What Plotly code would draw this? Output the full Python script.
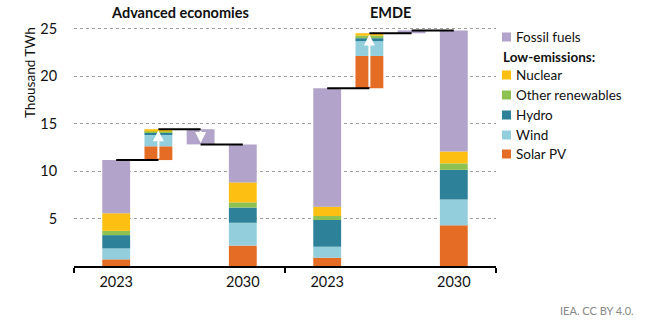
import plotly.graph_objects as go

# ---------------- data ----------------
series = ["Solar PV", "Wind", "Hydro", "Other renewables", "Nuclear", "Fossil fuels"]
colors = ["#E46C24", "#93CEDD", "#2D8299", "#8DC152", "#FDC012", "#B1A3C9"]
regions = ["Advanced economies", "EMDE"]
year_labels = ["2023", "2030"]

ae_2023 = [0.70, 1.15, 1.40, 0.45, 1.85, 5.60]
ae_2030 = [2.15, 2.40, 1.60, 0.55, 2.10, 4.00]
emde_2023 = [0.87, 1.16, 2.81, 0.42, 0.99, 12.45]
emde_2030 = [4.28, 2.72, 3.12, 0.68, 1.25, 12.75]

data = {"Advanced economies": (ae_2023, ae_2030), "EMDE": (emde_2023, emde_2030)}
group_start = {"Advanced economies": 0, "EMDE": 5}

BW = 0.66
fig = go.Figure()

xs = {s: [] for s in series}
bases = {s: [] for s in series}
heights = {s: [] for s in series}
line_x, line_y = [], []
arrows = []

for reg in regions:
    v23, v30 = data[reg]
    g = group_start[reg]
    p23, pinc, pfos, p30 = g + 1, g + 2, g + 3, g + 4
    cum23, cum30 = 0.0, 0.0
    tot23, tot30 = sum(v23), sum(v30)
    run = tot23
    for i, s in enumerate(series):
        xs[s] += [p23, p30]
        bases[s] += [cum23, cum30]
        heights[s] += [v23[i], v30[i]]
        cum23 += v23[i]
        cum30 += v30[i]
        d = v30[i] - v23[i]
        if i < 5:
            xs[s].append(pinc)
            bases[s].append(min(run, run + d))
            heights[s].append(abs(d))
            run += d
        else:
            after_low = run
            xs[s].append(pfos)
            bases[s].append(min(run, run + d))
            heights[s].append(abs(d))
            run += d
    # connectors
    line_x += [p23, pinc, None, pinc, pfos, None, pfos, p30, None]
    line_y += [tot23, tot23, None, after_low, after_low, None, run, run, None]
    arrows.append((pinc, tot23, after_low))
    fos_change = run - after_low
    if abs(fos_change) > 1.0:
        arrows.append((pfos, after_low, run))

for i, s in enumerate(series):
    fig.add_trace(go.Bar(
        x=xs[s], y=heights[s], base=bases[s], width=BW,
        marker=dict(color=colors[i], line=dict(width=0)),
        name=s, showlegend=False, hoverinfo="skip"))

fig.add_trace(go.Scatter(x=line_x, y=line_y, mode="lines",
                         line=dict(color="black", width=2),
                         showlegend=False, hoverinfo="skip"))

# ---------------- layout ----------------
L, R, T, B = 74, 154, 19, 58
W, H = 650, 324
PW, PH = W - L - R, H - T - B

def px(xp):
    return (xp - L) / PW

def py(yp):
    return (H - B - yp) / PH

FONT = "Lato, 'Open Sans', sans-serif"
annotations = []

for (xa, y0, y1) in arrows:
    tip = y1 - 0.12 if y1 > y0 else y1 + 0.15
    annotations.append(dict(x=xa, y=tip, ax=xa, ay=y0, xref="x", yref="y",
                            axref="x", ayref="y", text="", showarrow=True,
                            arrowhead=2, arrowsize=1.1, arrowwidth=2,
                            arrowcolor="white"))

for reg in regions:
    annotations.append(dict(x=group_start[reg] + 2.5, y=py(12), xref="x", yref="paper",
                            text="<b>%s</b>" % reg, showarrow=False,
                            font=dict(size=14.5, color="#111", family=FONT),
                            xanchor="center", yanchor="middle"))

annotations.append(dict(x=px(30), y=py(73), xref="paper", yref="paper",
                        text="Thousand TWh", textangle=-90, showarrow=False,
                        font=dict(size=13.5, color="#111", family=FONT),
                        xanchor="center", yanchor="middle"))

annotations.append(dict(x=px(636), y=py(310), xref="paper", yref="paper",
                        text="IEA. CC BY 4.0.", showarrow=False,
                        font=dict(size=11, color="#888", family=FONT),
                        xanchor="right", yanchor="middle"))

# legend (manual)
legend_items = [("Fossil fuels", 37), ("Nuclear", 75), ("Other renewables", 95),
                ("Hydro", 115), ("Wind", 135), ("Solar PV", 154)]
shapes = []
for name, yc in legend_items:
    c = colors[series.index(name)]
    shapes.append(dict(type="rect", xref="paper", yref="paper",
                       x0=px(502), x1=px(511), y0=py(yc + 4.5), y1=py(yc - 4.5),
                       fillcolor=c, line=dict(width=0)))
    annotations.append(dict(x=px(514), y=py(yc), xref="paper", yref="paper",
                            text=name, showarrow=False,
                            font=dict(size=13.5, color="#111", family=FONT),
                            xanchor="left", yanchor="middle"))
annotations.append(dict(x=px(501), y=py(57), xref="paper", yref="paper",
                        text="<b>Low-emissions:</b>", showarrow=False,
                        font=dict(size=13.5, color="#111", family=FONT),
                        xanchor="left", yanchor="middle"))

tickvals_x = []
ticktext_x = []
for reg in regions:
    g = group_start[reg]
    tickvals_x += [g + 1, g + 4]
    ticktext_x += year_labels

fig.update_layout(
    width=W, height=H,
    margin=dict(l=L, r=R, t=T, b=B, pad=0),
    paper_bgcolor="white", plot_bgcolor="white",
    barmode="overlay", showlegend=False,
    font=dict(family=FONT, size=13, color="#111"),
    annotations=annotations, shapes=shapes,
    xaxis=dict(range=[0, 10], tickvals=tickvals_x, ticktext=ticktext_x,
               showgrid=False, zeroline=False, showline=True,
               linecolor="black", linewidth=1.5,
               ticks="outside", ticklen=2, tickcolor="rgba(0,0,0,0)",
               tickfont=dict(size=14.5, color="#111", family=FONT),
               minor=dict(tickvals=[0, 5, 10], ticks="outside", ticklen=5,
                          tickcolor="black", tickwidth=1.5, showgrid=False)),
    yaxis=dict(range=[0, 26], tickvals=[5, 10, 15, 20, 25],
               showgrid=True, gridcolor="#a0a0a0", griddash="dot", gridwidth=1,
               zeroline=False, showline=False,
               ticks="outside", ticklen=13, tickcolor="rgba(0,0,0,0)",
               tickfont=dict(size=14.5, color="#111", family=FONT)),
)

fig.write_html("out.html")
